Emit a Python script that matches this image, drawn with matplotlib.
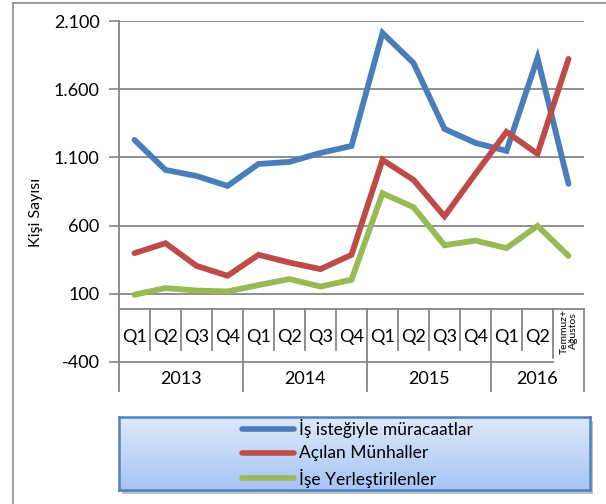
import numpy as np
import matplotlib.pyplot as plt
from matplotlib.lines import Line2D

plt.rcParams['font.family'] = ['Lato', 'DejaVu Sans']

quarters = ['Q1', 'Q2', 'Q3', 'Q4', 'Q1', 'Q2', 'Q3', 'Q4',
            'Q1', 'Q2', 'Q3', 'Q4', 'Q1', 'Q2', 'Temmuz+\nAğustos']
years = ['2013', '2014', '2015', '2016']
year_sizes = [4, 4, 4, 3]

names = ['İş isteğiyle müracaatlar', 'Açılan Münhaller', 'İşe Yerleştirilenler']
basvuru = [1228, 1008, 964, 891, 1052, 1067, 1133, 1184, 2012, 1792, 1309, 1206, 1148, 1829, 906]
munhal = [398, 471, 305, 232, 386, 329, 281, 386, 1082, 935, 668, 980, 1287, 1126, 1822]
yerlesen = [93, 142, 124, 117, 164, 208, 153, 203, 837, 735, 456, 490, 435, 598, 378]
colors = ['#4a7ebb', '#be4b48', '#98b954']

yticks = [-400, 100, 600, 1100, 1600, 2100]

W, H = 606, 504
fig = plt.figure(figsize=(W / 100, H / 100), dpi=100)


def fx(px):
    return px / W


def fy(py):
    return 1 - py / H


# outer chart frame (cut off at right and bottom)
fig.add_artist(Line2D([fx(13), fx(13)], [fy(3), 0], color='#8c8c8c', lw=1.2))
fig.add_artist(Line2D([fx(13), 1], [fy(3), fy(3)], color='#8c8c8c', lw=1.2))

left, right, top, bottom = 119, 584, 21, 362
ax = fig.add_axes([fx(left), fy(bottom), (right - left) / W, (bottom - top) / H])
n = len(quarters)
x = np.arange(n)
ax.set_xlim(-0.5, n - 0.5)
ax.set_ylim(-400, 2100)
for s in ax.spines.values():
    s.set_visible(False)
ax.set_xticks([])
ax.set_yticks(yticks)
ax.set_yticklabels([f'{v:,}'.replace(',', '.') for v in yticks], fontsize=13)
ax.tick_params(axis='y', length=7, width=1.2, color='#868686', pad=7)

for v in yticks[1:]:
    ax.axhline(v, color='#868686', lw=1.3, zorder=1)

gray = '#868686'
axh = bottom - top


def ay(py):
    return (bottom - py) / axh


# y axis line, extends down through the category rows
ax.plot([0, 0], [1, ay(391)], transform=ax.transAxes, color=gray, lw=1.3, clip_on=False)
# category band top line
ax.plot([0, 1], [ay(309), ay(309)], transform=ax.transAxes, color=gray, lw=1.3, clip_on=False)
# -400 line stops at the last cell
ax.plot([0, 14 / n], [0, 0], transform=ax.transAxes, color=gray, lw=1.3, clip_on=False)
# right edge
ax.plot([1, 1], [ay(309), ay(391)], transform=ax.transAxes, color=gray, lw=1.3, clip_on=False)

bounds = np.cumsum([0] + year_sizes)
for k in range(1, n):
    if k in bounds:
        y_end = ay(391)
    elif k == n - 1:
        y_end = ay(358)
    else:
        y_end = ay(350)
    ax.plot([k / n, k / n], [ay(309), y_end], transform=ax.transAxes,
            color=gray, lw=1.3, clip_on=False)

for i, q in enumerate(quarters):
    if '\n' in q:
        ax.text((i + 0.5) / n, ay(331), q, transform=ax.transAxes, rotation=90,
                ha='center', va='center', fontsize=7.5, linespacing=1.0)
    else:
        ax.text((i + 0.5) / n, ay(337), q, transform=ax.transAxes,
                ha='center', va='center', fontsize=13)

for j, yr in enumerate(years):
    cx = (bounds[j] + bounds[j + 1]) / 2 / n
    ax.text(cx, ay(379), yr, transform=ax.transAxes, ha='center', va='center', fontsize=13)

for vals, c in zip([basvuru, munhal, yerlesen], colors):
    ax.plot(x, vals, color=c, lw=4.2, solid_capstyle='round', solid_joinstyle='miter', zorder=3)

fig.text(fx(36), fy(212), 'Kişi Sayısı', rotation=90, ha='center', va='center', fontsize=11.5)

# legend box with gradient
lx0, lx1, ly0, ly1 = 119, 590, 417, 490
sh = fig.add_axes([fx(lx0 + 3), fy(ly1 + 4), (lx1 - lx0) / W, (ly1 - ly0) / H])
sh.set_facecolor('#bfbfbf')
sh.set_xticks([])
sh.set_yticks([])
for s in sh.spines.values():
    s.set_visible(False)
lg = fig.add_axes([fx(lx0), fy(ly1), (lx1 - lx0) / W, (ly1 - ly0) / H])
grad = np.linspace(0, 1, 100).reshape(-1, 1)
top_c = np.array([0xde, 0xe9, 0xfb]) / 255
bot_c = np.array([0xa6, 0xc4, 0xf5]) / 255
img = top_c[None, None, :] * (1 - grad[:, :, None]) + bot_c[None, None, :] * grad[:, :, None]
lg.imshow(img, aspect='auto', extent=[0, 1, 0, 1])
lg.set_xlim(0, 1)
lg.set_ylim(0, 1)
lg.set_xticks([])
lg.set_yticks([])
for s in lg.spines.values():
    s.set_color('#4f81bd')
    s.set_linewidth(1.8)

rows = [429, 453, 478]
for name, c, ry in zip(names, colors, rows):
    yy = (ly1 - ry) / (ly1 - ly0)
    lg.plot([(242 - lx0) / (lx1 - lx0), (294 - lx0) / (lx1 - lx0)], [yy, yy],
            color=c, lw=4, solid_capstyle='round')
    lg.text((299 - lx0) / (lx1 - lx0), yy, name, ha='left', va='center', fontsize=12.5)

fig.savefig('out.png', dpi=100)
